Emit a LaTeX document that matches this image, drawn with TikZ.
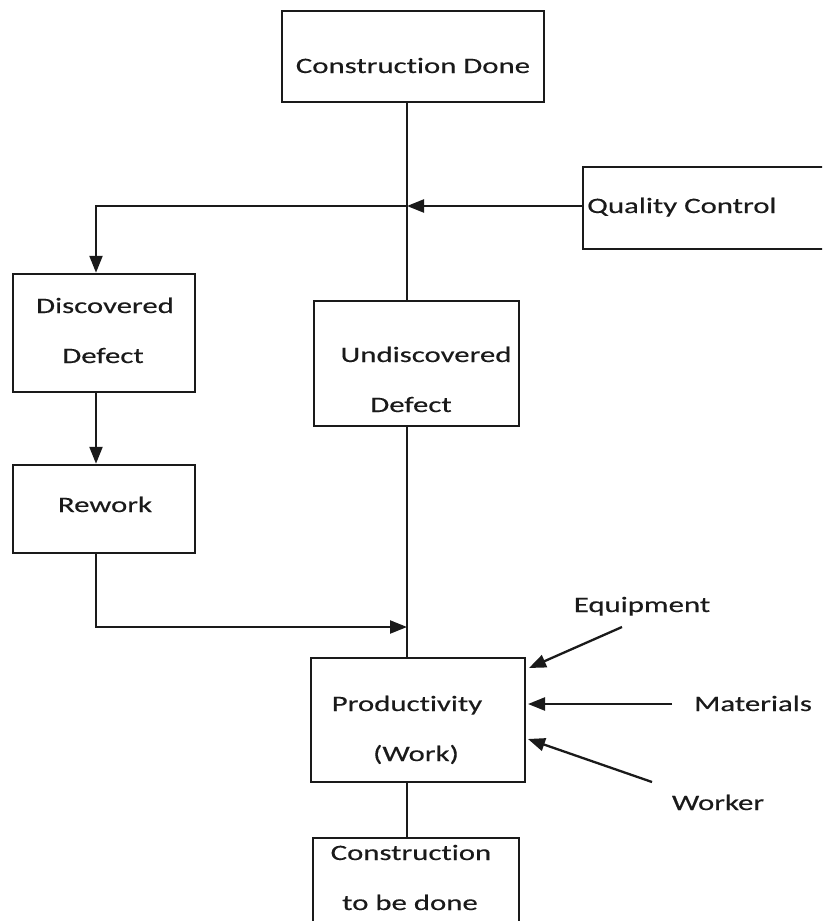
\documentclass[tikz,border=0pt]{standalone}
\usepackage{fontspec}
\setmainfont{Carlito}[FakeStretch=1.4, FakeBold=0.3, Ligatures=NoCommon, RawFeature=-liga]
\usetikzlibrary{arrows.meta}
\definecolor{ink}{HTML}{1A1A1A}
\tikzset{
  box/.style={draw=ink, line width=2.5pt, rectangle, inner sep=0pt},
  txt/.style={anchor=base, inner sep=0pt, text=ink, font=\fontsize{22}{26}\selectfont},
  conn/.style={draw=ink, line width=2.3pt},
  arr/.style={conn, -{Triangle[length=17pt,width=13pt]}}
}
\begin{document}
\begin{tikzpicture}[x=1pt,y=-1pt]
\useasboundingbox (0,0) rectangle (822,921);
\clip (0,0) rectangle (822,921);
\fill[white] (0,0) rectangle (822,921);
% boxes
\node[box, minimum width=262pt, minimum height=91pt] (cd) at (413,56.5) {};
\node[box, minimum width=260pt, minimum height=82pt] (qc) at (713,208) {};
\node[box, minimum width=182pt, minimum height=118pt] (dd) at (104,333) {};
\node[box, minimum width=205pt, minimum height=125pt] (ud) at (416.5,363.5) {};
\node[box, minimum width=182pt, minimum height=88pt] (rw) at (104,509) {};
\node[box, minimum width=214pt, minimum height=124pt] (pw) at (418,720) {};
\node[box, minimum width=206pt, minimum height=120pt] (cb) at (416,898) {};
% texts
\node[txt] (cdt) at (413,73) {Construction Done};
\node[txt, anchor=base west] (qct) at (587,213) {Quality Control};
\node[txt] (ddt1) at (105,313) {Discovered};
\node[txt] (ddt2) at (103,363) {Defect};
\node[txt] (udt1) at (426,362) {Undiscovered};
\node[txt] (udt2) at (411,412) {Defect};
\node[txt] (rwt) at (105,512) {Rework};
\node[txt] (pwt1) at (407,711) {Productivity};
\node[txt] (pwt2) at (416,761) {(Work)};
\node[txt] (cbt1) at (411,860) {Construction};
\node[txt] (cbt2) at (410,910) {to be done};
\node[txt] (eq) at (642,612) {Equipment};
\node[txt] (ma) at (753,711) {Materials};
\node[txt] (wo) at (718,810) {Worker};
% coordinates
\coordinate (j) at (407,206);
\coordinate (k) at (407,627);
\coordinate (ddx) at (96,0);
\coordinate (eqs) at (622,627);
\coordinate (eqe) at (529,668);
\coordinate (mas) at (672,704);
\coordinate (mae) at (528,704);
\coordinate (wos) at (652,782);
\coordinate (woe) at (528,739);
% connectors
\draw[conn] (j |- cd.south) -- (j |- ud.north);
\draw[arr] (qc.west |- j) -- (j);
\draw[arr] (j) -- (ddx |- j) -- (ddx |- dd.north);
\draw[arr] (ddx |- dd.south) -- (ddx |- rw.north);
\draw[conn] (j |- ud.south) -- (j |- pw.north);
\draw[arr] (ddx |- rw.south) -- (ddx |- k) -- (k);
\draw[conn] (j |- pw.south) -- (j |- cb.north);
\draw[arr] (eqs) -- (eqe);
\draw[arr] (mas) -- (mae);
\draw[arr] (wos) -- (woe);
\end{tikzpicture}
\end{document}
